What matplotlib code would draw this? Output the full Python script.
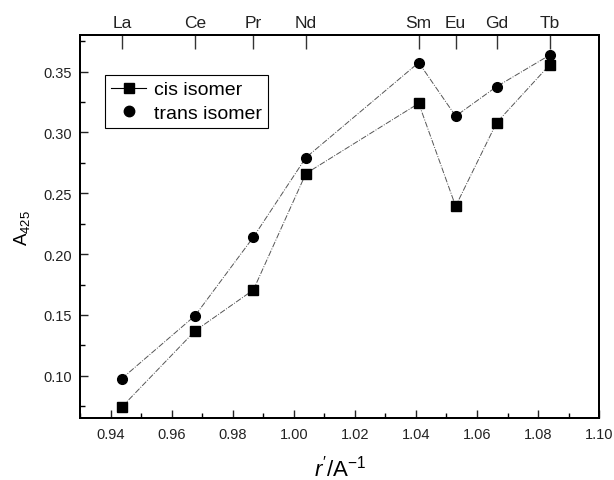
import matplotlib
matplotlib.use("Agg")
import matplotlib.pyplot as plt
from matplotlib.lines import Line2D
from matplotlib.ticker import MultipleLocator, FormatStrFormatter

plt.rcParams['font.family'] = ['Liberation Sans', 'DejaVu Sans']
plt.rcParams['mathtext.fontset'] = 'custom'
plt.rcParams['mathtext.rm'] = 'Liberation Sans'
plt.rcParams['mathtext.it'] = 'Liberation Sans:italic'

# reciprocal ionic radius of each lanthanide
elements = ["La", "Ce", "Pr", "Nd", "Sm", "Eu", "Gd", "Tb"]
r_inv = [0.9436, 0.9676, 0.9867, 1.0039, 1.0409, 1.0530, 1.0664, 1.0838]

cis_a425 = [0.0745, 0.137, 0.1706, 0.2662, 0.3239, 0.2394, 0.3079, 0.3555]
trans_a425 = [0.0978, 0.1495, 0.214, 0.2793, 0.3574, 0.3134, 0.3376, 0.3635]


fig = plt.figure(figsize=(6.14, 4.81), dpi=100)
ax = fig.add_axes([0.131, 0.128, 0.8446, 0.797])

line_kw = dict(color='#555555', lw=0.7, ls=(0, (6, 1.5, 1, 1.5)))
ax.plot(r_inv, cis_a425, **line_kw)
ax.plot(r_inv, trans_a425, **line_kw)
ax.plot(r_inv, cis_a425, 's', color='black', ms=6.5, ls='none')
ax.plot(r_inv, trans_a425, 'o', color='black', ms=7, ls='none')

ax.set_xlim(0.93, 1.10)
ax.set_ylim(0.065, 0.38)
ax.xaxis.set_major_locator(MultipleLocator(0.02))
ax.xaxis.set_minor_locator(MultipleLocator(0.01))
ax.yaxis.set_major_locator(MultipleLocator(0.05))
ax.yaxis.set_minor_locator(MultipleLocator(0.025))
ax.xaxis.set_major_formatter(FormatStrFormatter('%.2f'))
ax.yaxis.set_major_formatter(FormatStrFormatter('%.2f'))

ax.tick_params(which='major', direction='in', length=6, width=1.0,
               labelsize=10.5, colors='#222222', pad=6)
ax.tick_params(which='minor', direction='in', length=3.5, width=1.0)
ax.tick_params(top=False, right=False, which='both')
for s in ax.spines.values():
    s.set_linewidth(1.4)

# element names on the top axis
top = ax.twiny()
top.set_xlim(ax.get_xlim())
top.set_xticks(r_inv)
top.set_xticklabels(elements)
top.xaxis.set_minor_locator(plt.NullLocator())
top.tick_params(axis='x', which='major', top=True, bottom=False, labeltop=True,
                direction='in', length=10, width=1.0, labelsize=12.5,
                pad=4, color='#333333', labelcolor='#222222')
for s in top.spines.values():
    s.set_linewidth(1.4)

ax.set_xlabel(r"$\mathit{r}^{\prime}$/A$^{-1}$", fontsize=16, labelpad=10)
ax.set_ylabel(r"A$_{425}$", fontsize=13.5, labelpad=8)

handles = [
    Line2D([], [], color='black', lw=0.8, marker='s', ms=7, mfc='black'),
    Line2D([], [], color='black', ls='none', marker='o', ms=7.5, mfc='black'),
]
leg = ax.legend(handles, ["cis isomer", "trans isomer"], loc='upper left',
                bbox_to_anchor=(0.048, 0.896), fontsize=14, fancybox=False,
                edgecolor='black', framealpha=1, handlelength=1.8,
                handletextpad=0.4, borderpad=0.3, labelspacing=0.3,
                borderaxespad=0)
leg.get_frame().set_linewidth(0.8)

fig.savefig("out.png", dpi=100)
